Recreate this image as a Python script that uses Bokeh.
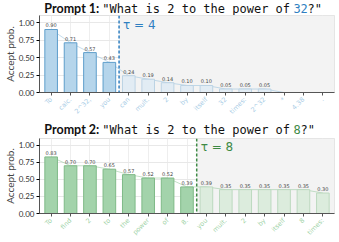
from bokeh.plotting import figure
from bokeh.layouts import column
from bokeh.models import ColumnDataSource, Span, BoxAnnotation, Label, FixedTicker, Range1d
from bokeh.core.properties import value
from bokeh.embed import file_html
from bokeh.resources import INLINE

tokens1 = ["To", "calc.", "2^32,", "you", "can", "mult.", "2", "by", "itself", "32", "times:", "2^32", "*", "4.38", "."]
probs1 = [0.90, 0.71, 0.57, 0.43, 0.24, 0.19, 0.14, 0.10, 0.10, 0.05, 0.05, 0.05, 0.0, 0.0, 0.0]
tau1 = 4
target1 = "32"

tokens2 = ["To", "find", "2", "to", "the", "power", "of", "8.", "you", "mult.", "2", "by", "itself", "8", "times:"]
probs2 = [0.83, 0.70, 0.70, 0.65, 0.57, 0.52, 0.52, 0.39, 0.39, 0.35, 0.35, 0.35, 0.35, 0.35, 0.30]
tau2 = 8
target2 = "8"

yticks = [0.0, 0.25, 0.5, 0.75, 1.0]
question = '"What is 2 to the power of '

MONO = "DejaVu Sans Mono"
SANS = "Lato"
LB, RB = 33, 5
W = 339


def title_fig(num, target, accent, h, cy):
    t = figure(width=W, height=h, x_range=Range1d(LB, W - RB), y_range=Range1d(0, h),
               output_backend="svg", toolbar_location=None,
               min_border_left=LB, min_border_right=RB, min_border_top=0, min_border_bottom=0)
    t.axis.visible = False
    t.grid.visible = False
    t.outline_line_color = None
    cw = 0.602 * 12
    x0 = 97
    y = h - cy
    t.text(x=[x0 - 3], y=[y], text=["Prompt %d:" % num], text_font=value(SANS), text_font_style="bold",
           text_font_size="12.5px", text_align="right", text_baseline="middle", text_color="#111111")
    t.text(x=[x0], y=[y], text=[question], text_font=value(MONO), text_font_size="12px",
           text_align="left", text_baseline="middle", text_color="#111111")
    t.text(x=[x0 + cw * len(question)], y=[y], text=[target], text_font=value(MONO), text_font_size="12px",
           text_align="left", text_baseline="middle", text_color=accent)
    t.text(x=[x0 + cw * (len(question) + len(target))], y=[y], text=['?"'], text_font=value(MONO),
           text_font_size="12px", text_align="left", text_baseline="middle", text_color="#111111")
    return t


def panel(tokens, probs, tau, accent, acc_fill, acc_line, rej_fill, rej_line, lab_col, line_col, h, bottom):
    n = len(tokens)
    xs = list(range(n))
    p = figure(width=W, height=h, x_range=(-0.6, n - 0.4), y_range=(0, 1.1),
               output_backend="svg", toolbar_location=None,
               min_border_left=LB, min_border_right=RB, min_border_top=0, min_border_bottom=bottom)
    p.background_fill_color = "white"
    p.border_fill_color = "white"
    p.outline_line_color = "#e0e0e0"

    p.add_layout(BoxAnnotation(left=tau - 0.5, fill_color="#f3f3f3", fill_alpha=1.0, line_alpha=0, level="underlay"))

    fills = [acc_fill if i < tau else rej_fill for i in xs]
    lines = [acc_line if i < tau else rej_line for i in xs]
    src = ColumnDataSource(dict(x=xs, top=probs, fill=fills, line=lines,
                                lab=[("%.2f" % v) if v > 0 else "" for v in probs],
                                ly=[v + 0.03 for v in probs]))
    p.line("x", "top", source=src, line_color=line_col, line_width=1, line_alpha=0.6)
    p.vbar(x="x", top="top", width=0.65, source=src, fill_color="fill", line_color="line", line_width=1)
    p.text(x="x", y="ly", text="lab", source=src, text_font_size="5px", text_color="#444444",
           text_align="center", text_baseline="bottom", text_font=value("DejaVu Sans"))

    p.add_layout(Span(location=tau - 0.5, dimension="height", line_color=accent,
                      line_dash="3 2", line_width=1.5))
    p.add_layout(Label(x=tau - 0.5, y=0.87, x_offset=4, text="\u03c4 = %d" % tau, text_color=accent,
                       text_font="DejaVu Sans", text_font_size="12px", text_baseline="bottom"))

    p.xaxis.ticker = FixedTicker(ticks=xs)
    p.xaxis.major_label_overrides = {i: t for i, t in enumerate(tokens)}
    p.xaxis.major_label_orientation = 0.785
    p.xaxis.major_label_text_font_size = "6.5px"
    p.xaxis.major_label_text_color = lab_col
    p.xaxis.major_label_text_font = "DejaVu Sans"
    p.xaxis.major_label_standoff = 3
    p.xaxis.minor_tick_line_color = None
    p.xaxis.major_tick_in = 0
    p.xaxis.major_tick_out = 3
    p.xaxis.axis_line_color = "#555555"
    p.xaxis.major_tick_line_color = "#555555"

    p.yaxis.ticker = FixedTicker(ticks=yticks)
    p.yaxis.major_label_overrides = {v: "%.2f" % v for v in yticks}
    p.yaxis.major_label_text_font_size = "8px"
    p.yaxis.major_label_text_font = SANS
    p.yaxis.major_label_text_color = "#333333"
    p.yaxis.major_label_standoff = 2
    p.yaxis.axis_label = "Accept prob."
    p.yaxis.axis_label_text_font_size = "10px"
    p.yaxis.axis_label_text_font_style = "normal"
    p.yaxis.axis_label_text_font = SANS
    p.yaxis.axis_label_standoff = 0
    p.yaxis.minor_tick_line_color = None
    p.yaxis.major_tick_in = 0
    p.yaxis.major_tick_out = 3
    p.yaxis.axis_line_color = "#555555"

    p.xgrid.grid_line_color = "#eeeeee"
    p.ygrid.grid_line_color = "#e8e8e8"
    return p


t1 = title_fig(1, target1, "#2f7fc1", 15, 8)
p1 = panel(tokens1, probs1, tau1, "#2f7fc1", "#b5d5eb", "#5e9ecb", "#e2ecf4", "#bcd3e4", "#a9cde6", "#9cc4e0", 106, 27)
t2 = title_fig(2, target2, "#3d8a45", 17, 8)
p2 = panel(tokens2, probs2, tau2, "#3d8a45", "#a3d3ab", "#7fba88", "#dcecdd", "#bcd9bf", "#9fd3a8", "#9ccba3", 104, 25)

layout = column(t1, p1, t2, p2, spacing=0)
open("out.html", "w").write(file_html(layout, INLINE))
